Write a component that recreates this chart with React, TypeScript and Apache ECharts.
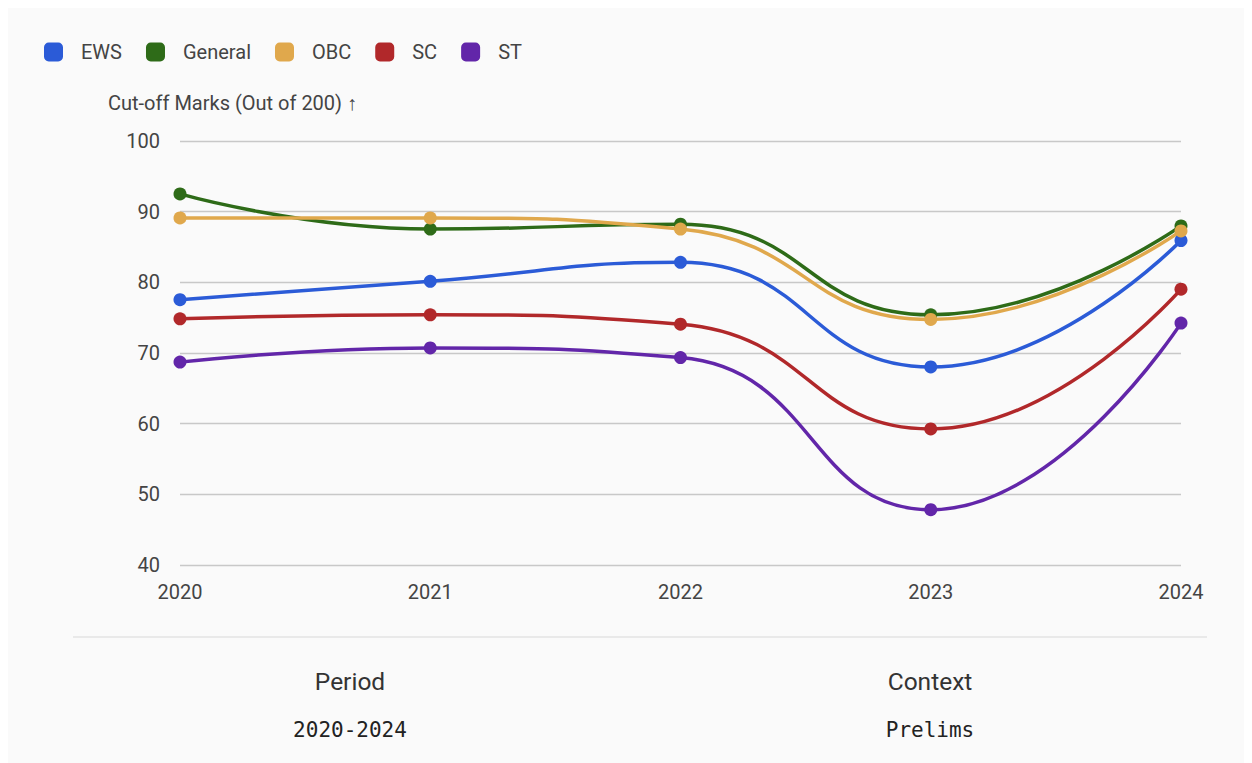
import React, { useEffect, useRef } from "react";
import * as echarts from "echarts";

const years = ["2020", "2021", "2022", "2023", "2024"];
const seriesNames = ["EWS", "General", "OBC", "SC", "ST"];
const ews = [77.55, 80.14, 82.83, 68.02, 85.92];
const general = [92.51, 87.54, 88.22, 75.41, 87.98];
const obc = [89.12, 89.12, 87.54, 74.75, 87.28];
const sc = [74.84, 75.41, 74.08, 59.25, 79.03];
const st = [68.71, 70.71, 69.35, 47.82, 74.23];
const colors = ["#2b5bd7", "#2e6b18", "#e0a84c", "#b1282a", "#6226a9"];
const yTicks = { min: 40, max: 100, interval: 10 };
const axisTitle = "Cut-off Marks (Out of 200) ↑";
const footerLabels = ["Period", "Context"];
const footerValues = ["2020-2024", "Prelims"];

export default function App() {
  const ref = useRef<HTMLDivElement>(null);
  useEffect(() => {
    if (!ref.current) return;
    const chart = echarts.init(ref.current, undefined, { renderer: "svg" });
    const data = [ews, general, obc, sc, st];
    chart.setOption({
      animation: false,
      backgroundColor: "#fafafa",
      textStyle: { fontFamily: "Roboto" },
      legend: {
        left: 31,
        top: 29,
        itemWidth: 19,
        itemHeight: 19,
        itemGap: 24,
        icon: "roundRect",
        data: seriesNames,
        textStyle: { color: "#444", fontSize: 20, fontFamily: "Roboto", padding: [0, 0, 0, 13] },
      },
      grid: { left: 172, right: 71, top: 133, bottom: 198, containLabel: false },
      xAxis: {
        type: "category",
        data: years,
        boundaryGap: false,
        axisLine: { show: false },
        axisTick: { show: false },
        axisLabel: { color: "#444", fontSize: 20, margin: 17, fontFamily: "Roboto" },
        splitLine: { show: false },
      },
      yAxis: {
        type: "value",
        min: yTicks.min,
        max: yTicks.max,
        interval: yTicks.interval,
        axisLine: { show: false },
        axisTick: { show: false },
        axisLabel: { color: "#444", fontSize: 20, margin: 20, fontFamily: "Roboto" },
        splitLine: { lineStyle: { color: "#c8c8c8", width: 1.3 } },
      },
      series: seriesNames.map((name, i) => ({
        name,
        type: "line",
        data: data[i],
        smooth: 0.5,
        symbol: "circle",
        symbolSize: 13,
        showSymbol: true,
        lineStyle: { width: 3.5, color: colors[i] },
        itemStyle: { color: colors[i] },
        emphasis: { disabled: true },
      })),
      graphic: [
        {
          type: "text",
          left: 100,
          top: 85,
          style: { text: axisTitle, fill: "#444", font: "20px Roboto" },
        },
        {
          type: "line",
          shape: { x1: 65, y1: 629, x2: 1199, y2: 629 },
          style: { stroke: "#e3e3e3", lineWidth: 1.5 },
        },
        {
          type: "text",
          x: 342,
          y: 673,
          style: { text: footerLabels[0], fill: "#333", font: "24.5px Roboto", textAlign: "center", textVerticalAlign: "middle" },
        },
        {
          type: "text",
          x: 922,
          y: 673,
          style: { text: footerLabels[1], fill: "#333", font: "24.5px Roboto", textAlign: "center", textVerticalAlign: "middle" },
        },
        {
          type: "text",
          x: 342,
          y: 722,
          style: { text: footerValues[0], fill: "#222", font: "21px 'DejaVu Sans Mono'", textAlign: "center", textVerticalAlign: "middle" },
        },
        {
          type: "text",
          x: 922,
          y: 722,
          style: { text: footerValues[1], fill: "#222", font: "21px 'DejaVu Sans Mono'", textAlign: "center", textVerticalAlign: "middle" },
        },
      ],
    });
    return () => chart.dispose();
  }, []);
  return <div ref={ref} style={{ width: 1244, height: 755 }} />;
}
